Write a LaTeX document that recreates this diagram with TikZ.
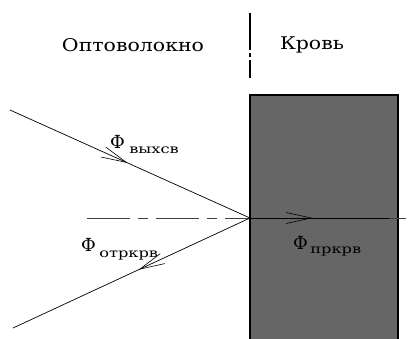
\documentclass[tikz,border=0pt]{standalone}
\usepackage{fontspec}
\setmainfont{DejaVu Serif}
\newfontfamily\lserif{DejaVu Serif}
\usetikzlibrary{arrows.meta,decorations.markings}
\definecolor{blood}{HTML}{666666}
\definecolor{axisgray}{HTML}{404040}
\tikzset{
  ray/.style={draw=black, line width=0.7pt},
  midarrow/.style={postaction={decorate, decoration={markings,
      mark=at position #1 with {\arrow{Straight Barb[length=25pt,width=11pt,line width=0.6pt]}}}}},
  axisline/.style={draw=axisgray, line width=0.9pt, dash pattern=on 43pt off 8pt on 10pt off 8pt},
  vaxis/.style={draw=black, line width=1.2pt, dash pattern=on 37pt off 3pt on 4pt off 3pt},
  title/.style={font=\lserif\fontsize{17.5}{17.5}\selectfont, xscale=1.17, inner sep=0pt},
  flux/.style={font=\lserif\fontsize{18}{18}\selectfont, inner sep=0pt, anchor=base west},
  sub/.style={font=\lserif\fontsize{12.5}{12.5}\selectfont, xscale=1.3, inner sep=0pt, anchor=base west}
}
\begin{document}
\begin{tikzpicture}[x=1pt,y=-1pt]
\useasboundingbox (0,0) rectangle (414,338);
\clip (0,0) rectangle (414,338);
\fill[white] (0,0) rectangle (414,338);
% blood region
\fill[blood] (250,95) rectangle (398,345);
\draw[line width=1.3pt] (250,345) |- (398,95) -- (398,345);
% coordinates
\coordinate (P) at (250,218);
\coordinate (A) at (10,110);
\coordinate (B) at (13,328);
\coordinate (C) at (389,218);
\coordinate (L) at (87,218);
\coordinate (R) at (414,218);
\coordinate (T) at (250,13);
\coordinate (U) at (250,78);
% axes
\draw[vaxis] (T) -- (U);
\draw[axisline] (L) -- (R);
% rays
\draw[ray, midarrow=0.49] (A) -- (P);
\draw[ray, midarrow=0.47] (P) -- (B);
\draw[ray, line width=1pt, midarrow=0.45] (P) -- (C);
% labels
\node[title] (fiber) at (133,45) {Оптоволокно};
\node[title] (bloodlbl) at (312,45) {Кровь};
\node[flux] (f1) at (110,148) {Φ};
\node[sub] (s1) at (129,153) {выхсв};
\node[flux] (f2) at (81,251) {Φ};
\node[sub] (s2) at (99,257) {отркрв};
\node[flux] (f3) at (293,249) {Φ};
\node[sub] (s3) at (310,253) {пркрв};
\end{tikzpicture}
\end{document}
